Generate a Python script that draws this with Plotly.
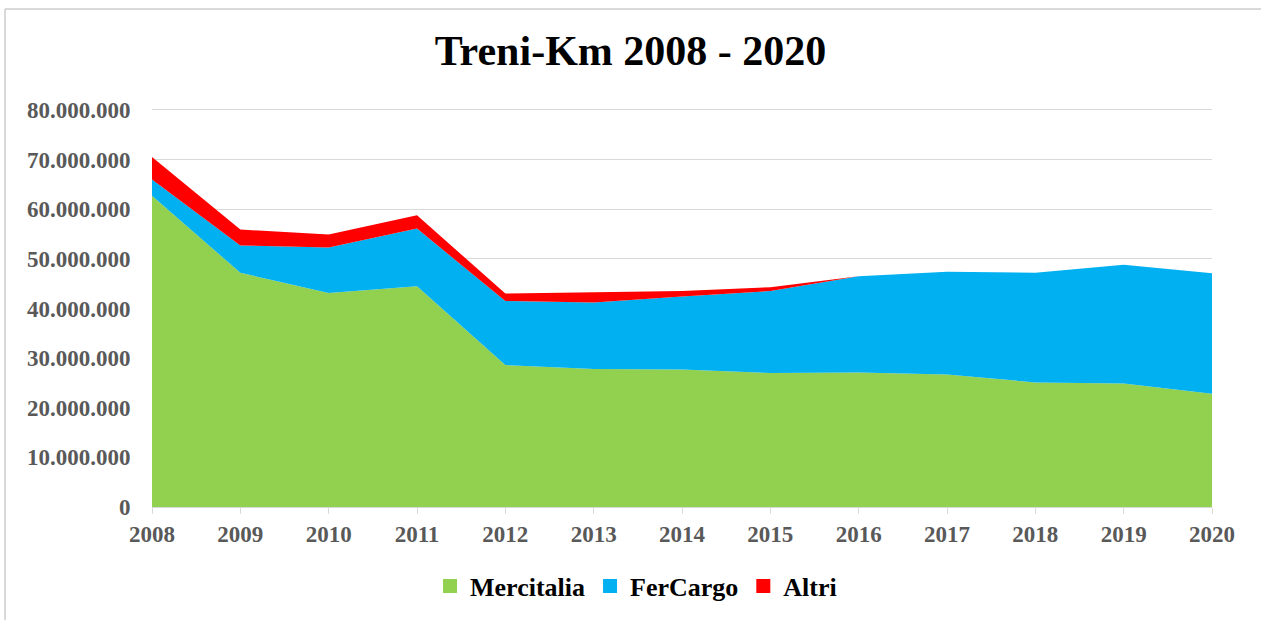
import plotly.graph_objects as go

years = [2008, 2009, 2010, 2011, 2012, 2013, 2014, 2015, 2016, 2017, 2018, 2019, 2020]
mercitalia = [62.7e6, 47.2e6, 43.1e6, 44.5e6, 28.6e6, 27.8e6, 27.7e6, 27.0e6, 27.1e6, 26.7e6, 25.1e6, 24.9e6, 22.8e6]
fercargo = [3.3e6, 5.5e6, 9.2e6, 11.6e6, 12.9e6, 13.4e6, 14.7e6, 16.5e6, 19.4e6, 20.7e6, 22.1e6, 23.9e6, 24.3e6]
altri = [4.5e6, 3.2e6, 2.6e6, 2.7e6, 1.5e6, 2.0e6, 1.1e6, 0.8e6, 0.0, 0.0, 0.0, 0.0, 0.0]
series_names = ["Mercitalia", "FerCargo", "Altri"]
colors = ["#92D050", "#00B0F0", "#FF0000"]
title_text = "Treni-Km 2008 - 2020"

W, H = 1261, 620
ml, mr, mt, mb = 152, 49, 105, 113

fig = go.Figure()
for name, vals, col in zip(series_names, [mercitalia, fercargo, altri], colors):
    fig.add_trace(go.Scatter(
        x=years, y=vals, name=name, mode="lines", stackgroup="one",
        line=dict(width=0, color=col), fillcolor=col, showlegend=False,
        hoverinfo="x+y+name"))
for name, col in zip(series_names, colors):
    fig.add_trace(go.Scatter(
        x=[None], y=[None], name=name, mode="markers",
        marker=dict(symbol="square", size=14, color=col), showlegend=True))

serif = "Liberation Serif, Times New Roman, serif"

pw = W - ml - mr
ph = H - mt - mb
bx = (5 - ml) / pw
by = (H - mb - 9) / ph

fig.update_layout(
    width=W, height=H,
    margin=dict(l=ml, r=mr, t=mt, b=mb, autoexpand=False),
    paper_bgcolor="white", plot_bgcolor="white",
    separators=",.",
    title=dict(text="<b>" + title_text + "</b>", x=0.5, xanchor="center",
               y=1 - 50 / H, yanchor="middle",
               font=dict(family=serif, size=42, color="black")),
    xaxis=dict(
        range=[2008, 2020], tickmode="array", tickvals=years,
        ticktext=[str(y) for y in years],
        showgrid=False, zeroline=False,
        showline=True, linecolor="#d9d9d9", linewidth=1,
        ticks="outside", ticklen=6, tickcolor="#d9d9d9",
        tickfont=dict(family=serif, size=23, color="#595959", weight="bold"),
    ),
    yaxis=dict(
        range=[0, 81e6], tickmode="linear", tick0=0, dtick=10e6, tickformat=",d",
        showgrid=True, gridcolor="#d9d9d9", gridwidth=1,
        zeroline=False, showline=False,
        ticks="outside", ticklen=16, tickcolor="rgba(0,0,0,0)",
        tickfont=dict(family=serif, size=23, color="#595959", weight="bold"),
    ),
    legend=dict(orientation="h", x=0.5 - 46 / pw, xanchor="center",
                y=-(586 - (H - mb)) / ph,
                yanchor="middle", traceorder="normal",
                font=dict(family=serif, size=26, color="black", weight="bold"),
                itemwidth=30, tracegroupgap=0),
    shapes=[
        dict(type="line", xref="paper", yref="paper", x0=bx, x1=1.2, y0=by, y1=by,
             line=dict(color="#d9d9d9", width=2)),
        dict(type="line", xref="paper", yref="paper", x0=bx, x1=bx, y0=by, y1=-0.5,
             line=dict(color="#d9d9d9", width=2)),
    ],
)

fig.write_html("out.html", config={"displayModeBar": False},
               post_script="document.body.style.margin='0';document.body.style.overflow='hidden';")
